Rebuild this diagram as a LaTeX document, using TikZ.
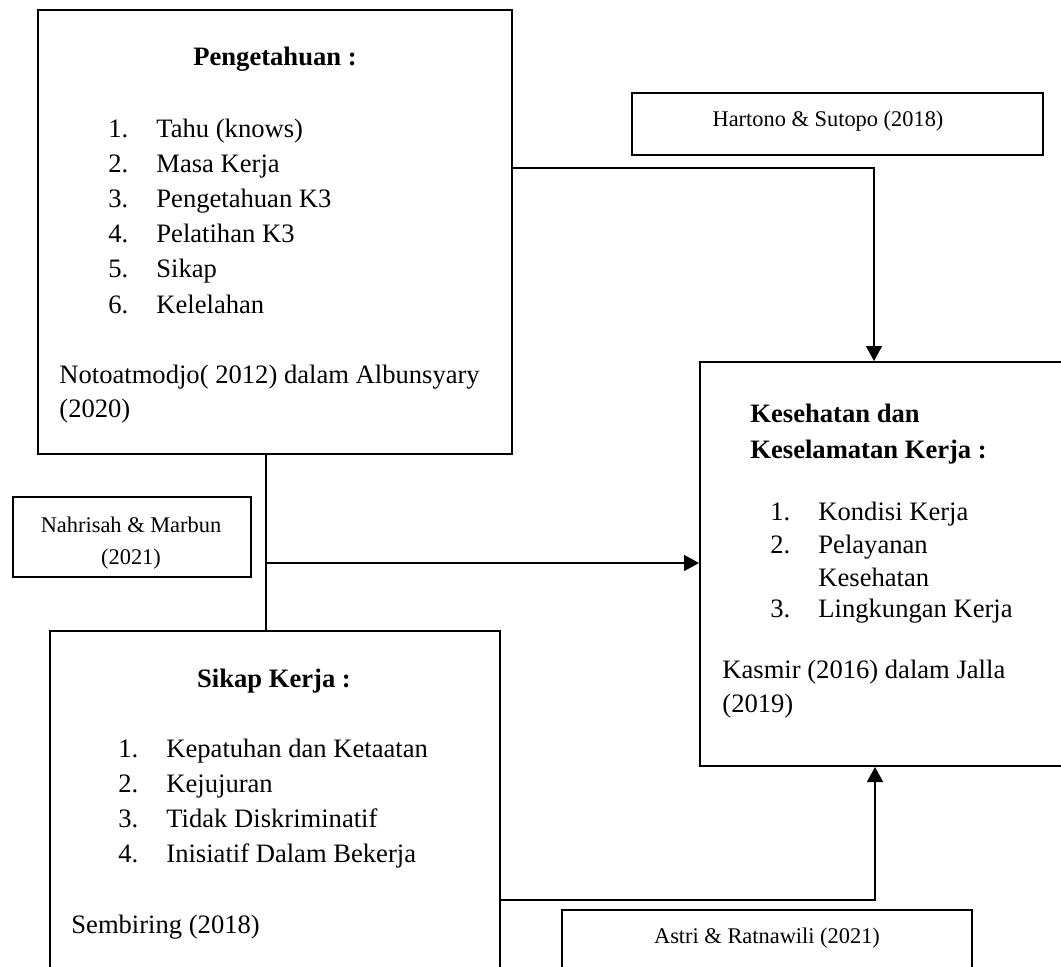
\documentclass[tikz,border=0pt]{standalone}
\usepackage{fontspec}
\setmainfont{Liberation Serif}
\usetikzlibrary{arrows.meta,calc,fit,positioning}

\tikzset{
    box/.style={draw, line width=1pt, inner sep=0pt},
    txt/.style={anchor=base west, inner sep=0pt, font=\fontsize{13.3}{16}\selectfont},
    ttl/.style={txt, font=\fontsize{13.3}{16}\selectfont\bfseries},
    cite/.style={anchor=base, inner sep=0pt, font=\fontsize{11.2}{14}\selectfont},
    link/.style={line width=0.75pt},
    arr/.style={link, -{Triangle[length=7.5pt,width=8pt]}},
}

\begin{document}
\begin{tikzpicture}[x=0.5pt,y=-0.5pt]
    \useasboundingbox (0,0) rectangle (1061,966);
    \clip (0,0) rectangle (1061,966);

    % boxes
    \node[box, fit={(38,10) (512,454)}] (peng) {};
    \node[box, fit={(700,362) (1100,766)}] (kes) {};
    \node[box, fit={(50,631) (500,1000)}] (sikap) {};
    \node[box, fit={(632,93) (1043,155)}] (hart) {};
    \node[box, fit={(13,497) (251,577)}] (nahr) {};
    \node[box, fit={(562,910) (972,1000)}] (astri) {};

    % Pengetahuan
    \node[ttl, anchor=base] (pengT) at (275,65) {Pengetahuan :};
    \foreach \t [count=\i] in {Tahu (knows), Masa Kerja, Pengetahuan K3, Pelatihan K3, Sikap, Kelelahan} {
        \node[txt] (pengN\i) at (108,{137+35.2*(\i-1)}) {\i.};
        \node[txt] (pengI\i) at (156,{137+35.2*(\i-1)}) {\t};
    }
    \node[txt] (pengC1) at (59,383) {Notoatmodjo( 2012) dalam Albunsyary};
    \node[txt] (pengC2) at (59,417) {(2020)};

    % Kesehatan dan Keselamatan Kerja
    \node[ttl] (kesT1) at (750,422) {Kesehatan dan};
    \node[ttl] (kesT2) at (750,458) {Keselamatan Kerja :};
    \node[txt] (kesN1) at (770,520) {1.};
    \node[txt] (kesI1) at (818,520) {Kondisi Kerja};
    \node[txt] (kesN2) at (770,553) {2.};
    \node[txt] (kesI2) at (818,553) {Pelayanan};
    \node[txt] (kesI2b) at (818,586) {Kesehatan};
    \node[txt] (kesN3) at (770,617) {3.};
    \node[txt] (kesI3) at (818,617) {Lingkungan Kerja};
    \node[txt] (kesC1) at (722,678) {Kasmir (2016) dalam Jalla};
    \node[txt] (kesC2) at (722,712) {(2019)};

    % Sikap Kerja
    \node[ttl, anchor=base] (sikapT) at (274,687) {Sikap Kerja :};
    \foreach \t [count=\i] in {Kepatuhan dan Ketaatan, Kejujuran, Tidak Diskriminatif, Inisiatif Dalam Bekerja} {
        \node[txt] (sikapN\i) at (118,{757+35.3*(\i-1)}) {\i.};
        \node[txt] (sikapI\i) at (166,{757+35.3*(\i-1)}) {\t};
    }
    \node[txt] (sikapC) at (71,933) {Sembiring (2018)};

    % sources
    \node[cite] (hartT) at (828,126) {Hartono \& Sutopo (2018)};
    \node[cite] (nahrT1) at (131,532) {Nahrisah \& Marbun};
    \node[cite] (nahrT2) at (131,564) {(2021)};
    \node[cite] (astriT) at (767,943) {Astri \& Ratnawili (2021)};

    % connectors
    \coordinate (P1) at (peng.east |- 0,168);
    \coordinate (K1) at (874,0 |- kes.north);
    \coordinate (V1) at (266,0 |- peng.south);
    \coordinate (V2) at (266,0 |- sikap.north);
    \coordinate (V3) at (266,563);
    \coordinate (S1) at (sikap.east |- 0,900);
    \coordinate (K2) at (875,0 |- kes.south);
    \draw[arr] (P1) -| (K1);
    \draw[link] (V1) -- (V2);
    \draw[arr] (V3) -- (kes.west |- V3);
    \draw[arr] (S1) -| (K2);

\end{tikzpicture}
\end{document}
